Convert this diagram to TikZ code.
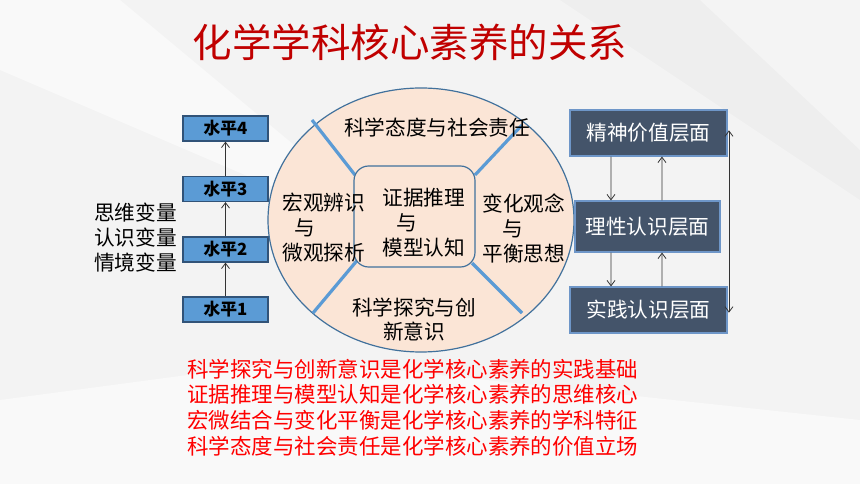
\documentclass[tikz,border=0pt]{standalone}
\usepackage{fontspec}
\setmainfont{Noto Sans CJK SC}
\usetikzlibrary{arrows.meta}

\definecolor{titlered}{RGB}{192,0,0}
\definecolor{levelblue}{RGB}{91,155,213}
\definecolor{levelline}{RGB}{49,83,120}
\definecolor{peach}{RGB}{251,229,214}
\definecolor{ringline}{RGB}{65,113,156}
\definecolor{slate}{RGB}{68,84,106}
\definecolor{slateline}{RGB}{110,150,200}
\definecolor{bggray}{RGB}{243,243,243}

\tikzset{every picture/.style={line width=0.75pt}}
\tikzset{
  level/.style={draw=levelline, fill=levelblue, line width=0.9pt, minimum width=63.75pt, minimum height=18.75pt, inner sep=0pt, font=\fontsize{12.6}{14}\selectfont\bfseries},
  layer/.style={draw=slateline, fill=slate, text=white, line width=0.9pt, minimum width=117.75pt, minimum height=34.5pt, inner sep=0pt, font=\fontsize{15.5}{18}\selectfont},
  part/.style={inner sep=0pt, font=\fontsize{15.5}{18.75}\selectfont},
  divider/.style={draw=levelblue, line width=2.4pt},
  arr/.style={-{Straight Barb[length=4pt,width=6pt]}, line width=0.6pt, draw=black!80},
}

\begin{document}
\begin{tikzpicture}[x=0.75pt,y=0.75pt,yscale=-1,xscale=1]
	%set diagram size 860 x 484
	\useasboundingbox (0,0) rectangle (860,484);

	%Shape: Background
	\fill[bggray] (0,0) rectangle (860,484);
	\fill[white, opacity=0.55] (0,0) -- (120,0) -- (420,250) -- (0,70) -- cycle;
	\fill[white, opacity=0.5] (0,400) -- (300,360) -- (860,420) -- (860,484) -- (0,484) -- cycle;
	\fill[white, opacity=0.5] (700,0) -- (860,0) -- (860,150) -- cycle;
	\fill[black, opacity=0.02] (560,0) -- (860,200) -- (860,0) -- cycle;

	% Text Node
	\node[text=titlered, font=\fontsize{29.6}{34}\selectfont] (title) at (410,42) {化学学科核心素养的关系};

	%Shape: Left levels
	\node[level] (lvl4) at (225.5,128.5) {水平4};
	\node[level] (lvl3) at (225.5,189) {水平3};
	\node[level] (lvl2) at (225.5,249.5) {水平2};
	\node[level] (lvl1) at (225.5,309.5) {水平1};
	\draw[arr] (lvl1) -- (lvl2);
	\draw[arr] (lvl2) -- (lvl3);
	\draw[arr] (lvl3) -- (lvl4);

	% Text Node
	\node[part, align=center] (vars) at (135.5,238) {思维变量\\认识变量\\情境变量};

	%Shape: Ellipse
	\draw[ringline, fill=peach, line width=0.9pt] (421,220) ellipse [x radius=153, y radius=132];
	%Straight Lines
	\draw[divider] (312,120) -- (355,175);
	\draw[divider] (475,175) -- (522,125);
	\draw[divider] (313,313) -- (360,257);
	\draw[divider] (472,263) -- (522,313);
	%Shape: Rounded Rect
	\draw[ringline, fill=peach, line width=0.9pt, rounded corners=11pt] (354,166) rectangle (475,267);

	% Text Node
	\node[part] (attitude) at (437,128) {科学态度与社会责任};
	% Text Node
	\node[part, align=left, anchor=west] (macro) at (282,228) {宏观辨识\\\hspace{0.6em}与\\微观探析};
	% Text Node
	\node[part, align=left, anchor=west] (evidence) at (382,223) {证据推理\\\hspace{0.7em}与\\模型认知};
	% Text Node
	\node[part, align=left, anchor=west] (change) at (482,228) {变化观念\\\hspace{0.95em}与\\平衡思想};
	% Text Node
	\node[part, align=center, font=\fontsize{15.5}{18}\selectfont] (inquiry) at (414,320) {科学探究与创\\新意识};

	%Shape: Right layers
	\node[layer] (spirit) at (648.5,133) {精神价值层面};
	\node[layer, minimum width=108.75pt, minimum height=38.25pt] (reason) at (647.5,226.5) {理性认识层面};
	\node[layer] (practice) at (648.5,310) {实践认识层面};
	\draw[arr] ([xshift=-28.1pt]spirit.south) -- ([xshift=-27.4pt]reason.north);
	\draw[arr] ([xshift=10.9pt]reason.north) -- ([xshift=10.1pt]spirit.south);
	\draw[arr] ([xshift=-27.4pt]reason.south) -- ([xshift=-28.1pt]practice.north);
	\draw[arr] ([xshift=10.1pt]practice.north) -- ([xshift=10.9pt]reason.south);
	\draw[arr, {Straight Barb[length=4pt,width=6pt]}-{Straight Barb[length=4pt,width=6pt]}] ([xshift=1pt,yshift=-2pt]spirit.east) -- ([xshift=1pt,yshift=2pt]practice.east);

	% Text Node
	\node[text=red, align=left, anchor=west, inner sep=0pt, font=\fontsize{16.1}{19.3}\selectfont] (summary) at (187,407.5) {科学探究与创新意识是化学核心素养的实践基础\\证据推理与模型认知是化学核心素养的思维核心\\宏微结合与变化平衡是化学核心素养的学科特征\\科学态度与社会责任是化学核心素养的价值立场};

\end{tikzpicture}
\end{document}
